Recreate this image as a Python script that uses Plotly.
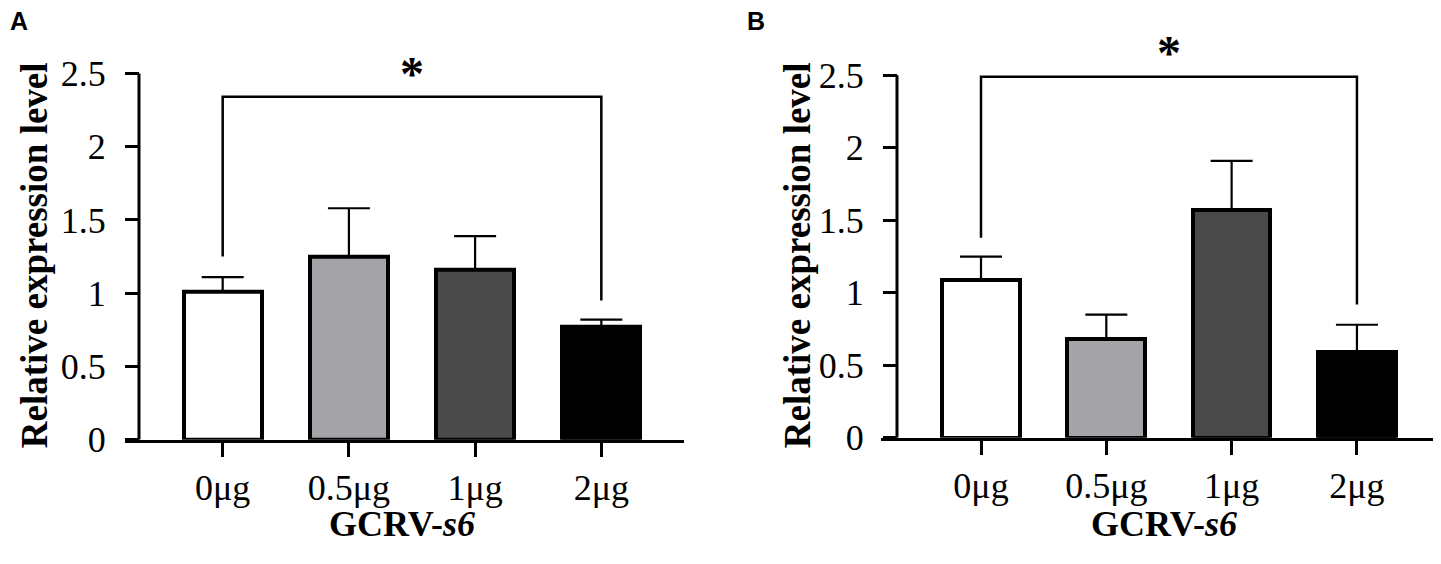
import plotly.graph_objects as go

W, H = 1441, 564
PAD = 8  # default body margin of the page
FW, FH = W - 2 * PAD, H - 2 * PAD

# values
doses = ["0μg", "0.5μg", "1μg", "2μg"]
bar_colors = ["#ffffff", "#a4a4a8", "#4a4a4a", "#000000"]

mean_a = [1.01, 1.25, 1.16, 0.77]
err_a = [0.10, 0.33, 0.23, 0.05]
mean_b = [1.09, 0.68, 1.57, 0.59]
err_b = [0.16, 0.17, 0.34, 0.19]

y_ticks = [0, 0.5, 1, 1.5, 2, 2.5]
y_ticktext = ["0", "0.5", "1", "1.5", "2", "2.5"]

# significance bracket: [left leg bottom, right leg bottom, bar height, star height]
sig_a = [1.25, 0.95, 2.34, 2.50]
sig_b = [1.38, 0.92, 2.49, 2.66]


def px(x):
    return min(max((x - PAD) / FW, 0), 1)


def py(y):
    return min(max(1 - (y - PAD) / FH, 0), 1)


serif = "Liberation Serif"

fig = go.Figure()

panels = [
    # name, means, errs, sig, x-domain px, x-range, y-axis px, y0 px, px per unit, title x, xtitle x, label x
    ("A", mean_a, err_a, sig_a, (125, 684), (-0.774, 3.655), 139, 457, 152.4, 34, 402, PAD),
    ("B", mean_b, err_b, sig_b, (881, W - PAD), (-0.798, 3.607), 897, 455, 150.8, 797, 1164, 745),
]

ymax = 2.75
for i, (name, means, errs, sig, xdom, xrng, yax, y0, scale, ytx, xtx, lblx) in enumerate(panels):
    n = "" if i == 0 else str(i + 1)
    xa, ya = "x" + n, "y" + n
    fig.add_trace(go.Bar(
        x=list(range(len(doses))), y=means, xaxis=xa, yaxis=ya,
        width=0.62,
        marker=dict(color=bar_colors, line=dict(color="black", width=4)),
        error_y=dict(type="data", symmetric=False, array=errs,
                     arrayminus=[0] * len(errs), color="black",
                     thickness=2.2, width=21),
        showlegend=False, hoverinfo="skip",
    ))
    top = y0 - ymax * scale
    fig.layout["xaxis" + n] = dict(
        domain=[px(xdom[0]), px(xdom[1])], range=list(xrng), anchor=ya,
        tickmode="array", tickvals=list(range(len(doses))), ticktext=doses,
        showline=True, linecolor="black", linewidth=3,
        ticks="outside", ticklen=14, tickwidth=3, tickcolor="black",
        tickfont=dict(family=serif, size=36, color="black"),
        showgrid=False, zeroline=False, fixedrange=True,
    )
    fig.layout["yaxis" + n] = dict(
        domain=[py(y0), py(top)], range=[0, ymax], anchor="free",
        position=px(yax),
        tickmode="array", tickvals=y_ticks, ticktext=y_ticktext,
        showline=False, ticks="outside", ticklen=14, tickwidth=3,
        tickcolor="black", ticklabelstandoff=12,
        tickfont=dict(family=serif, size=36, color="black"),
        showgrid=False, zeroline=False, fixedrange=True,
    )
    # y axis line, stopping at the top tick
    fig.add_shape(type="line", xref="paper", yref=ya, x0=px(yax), x1=px(yax),
                  y0=0, y1=y_ticks[-1], line=dict(color="black", width=3))
    # significance bracket between first and last dose
    left, right = 0, len(doses) - 1
    fig.add_shape(type="path", xref=xa, yref=ya,
                  path=f"M {left},{sig[0]} L {left},{sig[2]} L {right},{sig[2]} L {right},{sig[1]}",
                  line=dict(color="black", width=2.5))
    fig.add_annotation(x=(left + right) / 2, y=sig[3], xref=xa, yref=ya,
                       text="<b>*</b>", showarrow=False, yanchor="middle",
                       font=dict(family=serif, size=48, color="black"))
    # axis titles
    fig.add_annotation(x=px(ytx), y=py(265), xref="paper", yref="paper",
                       text="<b>Relative expression level</b>", textangle=-90,
                       showarrow=False, xanchor="center", yanchor="middle",
                       font=dict(family=serif, size=37, color="black"))
    fig.add_annotation(x=px(xtx), y=py(545), xref="paper", yref="paper",
                       text="<b>GCRV-<i>s6</i></b>", showarrow=False,
                       xanchor="center", yanchor="middle",
                       font=dict(family=serif, size=36, color="black"))
    # panel letter
    fig.add_annotation(x=px(lblx), y=py(22), xref="paper", yref="paper",
                       text="<b>" + name + "</b>", showarrow=False,
                       xanchor="left", yanchor="middle",
                       font=dict(family="Liberation Sans", size=25, color="black"))

fig.update_layout(
    width=FW, height=FH,
    margin=dict(l=0, r=0, t=0, b=0),
    paper_bgcolor="white", plot_bgcolor="white",
    bargap=0,
)

fig.write_html("out.html")
